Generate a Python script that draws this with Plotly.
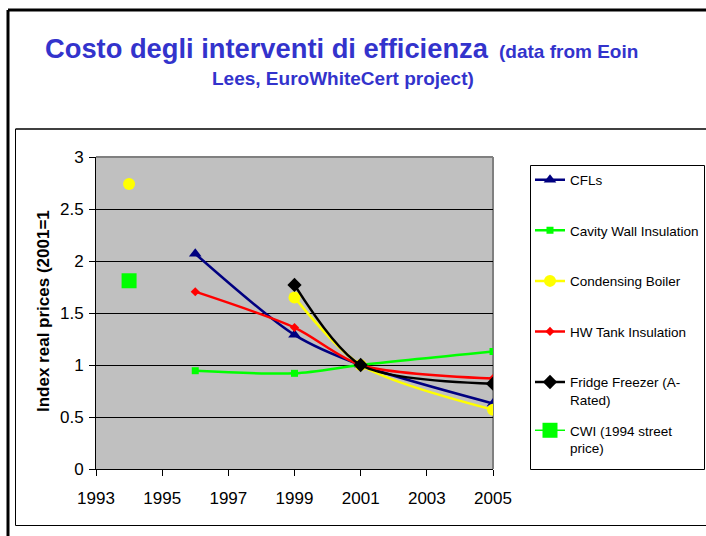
import plotly.graph_objects as go

# ---- data ----
years = [1994, 1996, 1999, 2001, 2005]
cfls = [None, 2.07, 1.29, 1.0, 0.63]
cavity_wall = [None, 0.945, 0.92, 1.0, 1.13]
condensing_boiler = [2.74, None, 1.65, 1.0, 0.57]
hw_tank = [None, 1.705, 1.36, 1.0, 0.87]
fridge_freezer = [None, None, 1.77, 1.0, 0.82]
cwi_1994 = [1.81, None, None, None, None]

series_names = ["CFLs", "Cavity Wall Insulation", "Condensing Boiler",
                "HW Tank Insulation", "Fridge Freezer (A-<br>Rated)",
                "CWI (1994 street<br>price)"]
x_ticks = [1993, 1995, 1997, 1999, 2001, 2003, 2005]
y_ticks = [0, 0.5, 1, 1.5, 2, 2.5, 3]

W, H = 706, 536
FONT = "Arial, Liberation Sans, sans-serif"

def px_x(p):
    return p / W

def px_y(p):
    return 1 - p / H

styles = [
    dict(color="#000080", symbol="triangle-up", size=11, lw=2.5),
    dict(color="#00FF00", symbol="square", size=7, lw=2.5),
    dict(color="#FFFF00", symbol="circle", size=12, lw=2.5),
    dict(color="#FF0000", symbol="diamond", size=7, lw=2.5),
    dict(color="#000000", symbol="diamond", size=11, lw=2.5),
    dict(color="#00FF00", symbol="square", size=15, lw=1.5),
]
data = [cfls, cavity_wall, condensing_boiler, hw_tank, fridge_freezer, cwi_1994]

fig = go.Figure()
for i, (name, vals, st) in enumerate(zip(series_names, data, styles)):
    fig.add_trace(go.Scatter(
        x=years, y=vals, name=name, mode="lines+markers",
        line=dict(color=st["color"], width=st["lw"], shape="spline", smoothing=0.8),
        marker=dict(color=st["color"], symbol=st["symbol"], size=st["size"],
                    line=dict(width=0)),
        connectgaps=False, legendgroup=f"g{i}",
        legend="legend2" if i == 5 else "legend",
    ))

plot_l, plot_r, plot_t, plot_b = 96, 493, 157, 469

legend_common = dict(
    xanchor="left", yanchor="top", valign="top",
    borderwidth=0, bgcolor="rgba(0,0,0,0)",
    font=dict(family=FONT, size=13.5, color="black"),
    tracegroupgap=30, itemwidth=30,
)

fig.update_layout(
    width=W, height=H,
    margin=dict(l=0, r=0, t=0, b=0, autoexpand=False),
    paper_bgcolor="white",
    plot_bgcolor="#C0C0C0",
    font=dict(family=FONT, color="black"),
    showlegend=True,
    legend=dict(x=px_x(530), y=px_y(164.5), **legend_common),
    legend2=dict(x=px_x(530), y=px_y(415), **legend_common),
    xaxis=dict(
        domain=[px_x(plot_l), px_x(plot_r)],
        range=[1993, 2005], tickvals=x_ticks, ticktext=[str(v) for v in x_ticks],
        showgrid=False, zeroline=False,
        showline=True, linecolor="black", linewidth=1,
        ticks="outside", ticklen=6, tickcolor="black",
        tickfont=dict(family=FONT, size=17, color="black"),
        ticklabelstandoff=8,
        automargin=False,
    ),
    yaxis=dict(
        domain=[px_y(plot_b), px_y(plot_t)],
        range=[0, 3], tickvals=y_ticks, ticktext=["0", "0.5", "1", "1.5", "2", "2.5", "3"],
        showgrid=True, gridcolor="black", gridwidth=1, zeroline=False,
        showline=True, linecolor="black", linewidth=1,
        ticks="outside", ticklen=6, tickcolor="black",
        tickfont=dict(family=FONT, size=17, color="black"),
        ticklabelstandoff=2,
        automargin=False,
    ),
    shapes=[
        # slide border
        dict(type="line", xref="paper", yref="paper", x0=px_x(8), x1=1, y0=px_y(10), y1=px_y(10),
             line=dict(color="black", width=3)),
        dict(type="line", xref="paper", yref="paper", x0=px_x(8), x1=px_x(8), y0=px_y(10), y1=0,
             line=dict(color="black", width=3)),
        # chart box
        dict(type="line", xref="paper", yref="paper", x0=px_x(15.5), x1=1, y0=px_y(129), y1=px_y(129),
             line=dict(color="#404040", width=2)),
        dict(type="line", xref="paper", yref="paper", x0=px_x(15.5), x1=px_x(15.5), y0=px_y(129), y1=px_y(525.5),
             line=dict(color="black", width=1)),
        dict(type="line", xref="paper", yref="paper", x0=px_x(15.5), x1=1, y0=px_y(525.5), y1=px_y(525.5),
             line=dict(color="black", width=1)),
        # legend box
        dict(type="rect", xref="paper", yref="paper", x0=px_x(530.5), x1=px_x(704.5),
             y0=px_y(165.5), y1=px_y(469.5), line=dict(color="black", width=1),
             fillcolor="rgba(0,0,0,0)", layer="below"),
        # plot area gray border (top, right)
        dict(type="line", xref="x domain", yref="y domain", x0=0, x1=1, y0=1, y1=1,
             line=dict(color="#808080", width=2), layer="above"),
        dict(type="line", xref="x domain", yref="y domain", x0=1, x1=1, y0=0, y1=1,
             line=dict(color="#808080", width=2), layer="below"),
    ],
    annotations=[
        dict(text="<b>Costo degli interventi di efficienza</b>", xref="paper", yref="paper",
             x=px_x(43), y=px_y(49), xanchor="left", yanchor="middle", showarrow=False,
             font=dict(family=FONT, size=27.3, color="#3333CC")),
        dict(text="<b>(data from Eoin</b>", xref="paper", yref="paper",
             x=px_x(497), y=px_y(51), xanchor="left", yanchor="middle", showarrow=False,
             font=dict(family=FONT, size=19, color="#3333CC")),
        dict(text="<b>Lees, EuroWhiteCert project)</b>", xref="paper", yref="paper",
             x=px_x(343), y=px_y(79), xanchor="center", yanchor="middle", showarrow=False,
             font=dict(family=FONT, size=19, color="#3333CC")),
        dict(text="<b>Index real prices (2001=1</b>", xref="paper", yref="paper",
             x=px_x(43), y=px_y(311), xanchor="center", yanchor="middle", showarrow=False,
             textangle=-90, font=dict(family=FONT, size=17, color="black")),
    ],
)

fig.write_html("out.html",
               config={"displayModeBar": False},
               post_script="document.body.style.margin='0';document.body.style.overflow='hidden';")
